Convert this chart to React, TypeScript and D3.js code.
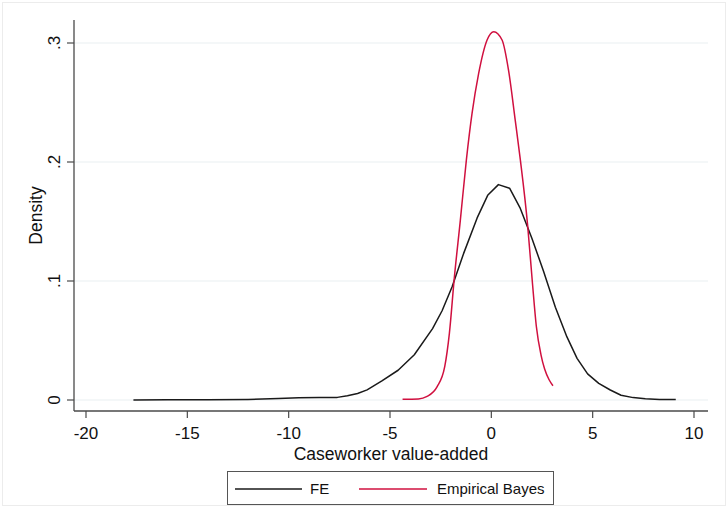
import React from "react";
import * as d3 from "d3";

// FE kernel density (x: caseworker value-added, y: density)
const feX = [-17.66, -16, -14, -12, -10.5, -9.5, -8.5, -7.6, -7.1, -6.6, -6.13, -5.4, -4.6, -3.8, -2.9, -2.43, -1.94, -1.37, -0.7, -0.18, 0.35, 0.9, 1.43, 2.0, 2.58, 3.16, 3.73, 4.23, 4.75, 5.3, 5.87, 6.4, 7.0, 7.6, 8.3, 9.1];
const feY = [0, 0.0002, 0.0002, 0.0005, 0.0012, 0.0018, 0.002, 0.0022, 0.0035, 0.0055, 0.0085, 0.016, 0.025, 0.038, 0.06, 0.075, 0.095, 0.123, 0.153, 0.172, 0.181, 0.178, 0.161, 0.136, 0.108, 0.078, 0.053, 0.035, 0.022, 0.014, 0.0084, 0.004, 0.002, 0.001, 0.0005, 0.0004];

// Empirical Bayes density
const ebX = [-4.38, -3.6, -3.17, -2.68, -2.3, -2.07, -1.83, -1.53, -1.23, -0.95, -0.63, -0.21, 0.12, 0.53, 0.85, 1.18, 1.43, 1.79, 2.02, 2.22, 2.45, 2.63, 2.85, 3.04];
const ebY = [0.0006, 0.0009, 0.003, 0.011, 0.028, 0.056, 0.102, 0.151, 0.202, 0.241, 0.274, 0.3025, 0.3095, 0.3025, 0.277, 0.235, 0.202, 0.147, 0.1, 0.062, 0.038, 0.026, 0.017, 0.012];

const xTicks = [-20, -15, -10, -5, 0, 5, 10];
const yTicks = [0, 0.1, 0.2, 0.3];
const yTickLabels = ["0", ".1", ".2", ".3"];
const seriesNames = ["FE", "Empirical Bayes"];
const seriesColors = ["#1a1a1a", "#d0103f"];

const W = 727;
const H = 506;
const plotLeft = 74;
const plotRight = 708;
const plotTop = 20;
const axisY = 411;

export default function App() {
  const x = d3.scaleLinear().domain([-20, 10]).range([86, 694]);
  const y = d3.scaleLinear().domain([0, 0.3]).range([400, 43]);

  const feData = feX.map((v, i) => [v, feY[i]] as [number, number]);
  const ebData = ebX.map((v, i) => [v, ebY[i]] as [number, number]);

  const lineLinear = d3
    .line<[number, number]>()
    .x((d) => x(d[0]))
    .y((d) => y(d[1]));
  const lineSmooth = d3
    .line<[number, number]>()
    .x((d) => x(d[0]))
    .y((d) => y(d[1]))
    .curve(d3.curveMonotoneX);

  const font = "Arial, 'Liberation Sans', Helvetica, sans-serif";
  const axisColor = "#4a4a4a";

  return (
    <svg
      width={W}
      height={H}
      style={{ position: "absolute", left: 0, top: 0, background: "#fff" }}
      fontFamily={font}
    >
      <rect x={0} y={0} width={W} height={H} fill="#fff" />
      <rect x={2.5} y={2.5} width={W - 4} height={H - 3} fill="none" stroke="#ececec" strokeWidth={1} />

      {/* gridlines */}
      {yTicks.map((t) => (
        <line key={"g" + t} x1={plotLeft} x2={plotRight} y1={y(t)} y2={y(t)} stroke="#e9f0f2" strokeWidth={1.2} />
      ))}

      {/* series */}
      <path d={lineLinear(feData) || ""} fill="none" stroke={seriesColors[0]} strokeWidth={1.5} strokeLinejoin="round" />
      <path d={lineSmooth(ebData) || ""} fill="none" stroke={seriesColors[1]} strokeWidth={1.5} strokeLinejoin="round" />

      {/* axes */}
      <line x1={plotLeft} x2={plotLeft} y1={plotTop} y2={axisY} stroke={axisColor} strokeWidth={1.3} />
      <line x1={plotLeft} x2={plotRight} y1={axisY} y2={axisY} stroke={axisColor} strokeWidth={1.3} />

      {yTicks.map((t, i) => (
        <g key={"y" + t}>
          <line x1={plotLeft - 7} x2={plotLeft} y1={y(t)} y2={y(t)} stroke={axisColor} strokeWidth={1.2} />
          <text
            transform={`translate(${plotLeft - 14},${y(t)}) rotate(-90)`}
            textAnchor="middle"
            fontSize={17}
            fill="#111"
          >
            {yTickLabels[i]}
          </text>
        </g>
      ))}

      {xTicks.map((t) => (
        <g key={"x" + t}>
          <line x1={x(t)} x2={x(t)} y1={axisY} y2={axisY + 7} stroke={axisColor} strokeWidth={1.2} />
          <text x={x(t)} y={439} textAnchor="middle" fontSize={17} fill="#111">
            {t}
          </text>
        </g>
      ))}

      <text x={(plotLeft + plotRight) / 2} y={460} textAnchor="middle" fontSize={17.5} fill="#111">
        Caseworker value-added
      </text>
      <text
        transform={`translate(42,${(plotTop + axisY) / 2}) rotate(-90)`}
        textAnchor="middle"
        fontSize={17.5}
        fill="#111"
      >
        Density
      </text>

      {/* legend */}
      <rect x={227.5} y={471.5} width={326} height={33} fill="#fff" stroke="#555" strokeWidth={1} />
      <line x1={235} x2={302} y1={489} y2={489} stroke={seriesColors[0]} strokeWidth={1.5} />
      <text x={310} y={494} fontSize={15} fill="#111">
        {seriesNames[0]}
      </text>
      <line x1={359} x2={427} y1={489} y2={489} stroke={seriesColors[1]} strokeWidth={1.5} />
      <text x={437} y={494} fontSize={15} fill="#111">
        {seriesNames[1]}
      </text>
    </svg>
  );
}
